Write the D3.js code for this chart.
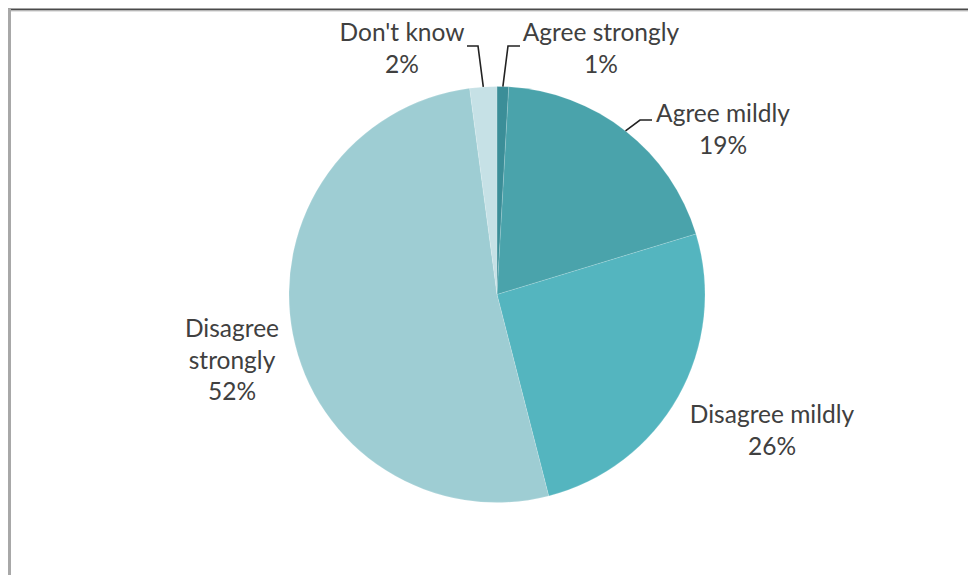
<!DOCTYPE html>
<html>
<head>
<meta charset="utf-8">
<script src="https://cdn.jsdelivr.net/npm/d3@7/dist/d3.min.js"></script>
<style>
  html, body { margin: 0; padding: 0; background: #fff; }
  svg { display: block; }
  text { font-family: Lato, "Open Sans", sans-serif; fill: #404040; }
</style>
</head>
<body>
<svg id="chart" width="968" height="575"></svg>
<script>
// Data
const categories = ["Agree strongly", "Agree mildly", "Disagree mildly", "Disagree strongly", "Don't know"];
const values = [0.9, 19.4, 25.7, 51.9, 2.1];
const colors = ["#3b8e98", "#4aa3ab", "#54b5bf", "#9ecdd3", "#c6e1e6"];
// label lines (text) for each slice
const labelLines = [
  ["Agree strongly"],
  ["Agree mildly"],
  ["Disagree mildly"],
  ["Disagree", "strongly"],
  ["Don't know"]
];

const svg = d3.select("#chart");
const W = 968, H = 575;

// frame
svg.append("rect").attr("x", 0).attr("y", 0).attr("width", W).attr("height", H).attr("fill", "#fff");
svg.append("line").attr("x1", 8).attr("x2", W).attr("y1", 9.5).attr("y2", 9.5)
  .attr("stroke", "#4a4a4a").attr("stroke-width", 2);
svg.append("line").attr("x1", 8).attr("x2", W).attr("y1", 11).attr("y2", 11)
  .attr("stroke", "#c8c8c8").attr("stroke-width", 1);
svg.append("line").attr("x1", 9.5).attr("x2", 9.5).attr("y1", 9).attr("y2", H)
  .attr("stroke", "#a8a8a8").attr("stroke-width", 3);

const cx = 497, cy = 294.5, R = 208;
const data = categories.map((c, i) => ({ cat: c, value: values[i], color: colors[i], lines: labelLines[i] }));

const pie = d3.pie().sort(null).value(d => d.value).startAngle(0).endAngle(2 * Math.PI);
const arc = d3.arc().innerRadius(0).outerRadius(R);
const arcs = pie(data);

const g = svg.append("g").attr("transform", `translate(${cx},${cy})`);
g.selectAll("path.slice").data(arcs).enter().append("path")
  .attr("class", "slice")
  .attr("d", arc)
  .attr("fill", d => d.data.color)
  .attr("stroke", "#ffffff")
  .attr("stroke-opacity", 0.25)
  .attr("stroke-width", 0.6);

// label placements (absolute, with percent line appended)
const labelPos = {
  "Agree strongly": { x: 601, y: 41 },
  "Agree mildly": { x: 723, y: 122 },
  "Disagree mildly": { x: 772, y: 423 },
  "Disagree strongly": { x: 232, y: 337 },
  "Don't know": { x: 402, y: 41 }
};
const lineH = 31.5;
arcs.forEach(a => {
  const p = labelPos[a.data.cat];
  const lines = a.data.lines.concat([Math.round(a.data.value) + "%"]);
  const t = svg.append("text").attr("text-anchor", "middle").style("font-size", "24.5px");
  lines.forEach((ln, i) => {
    t.append("tspan").attr("x", p.x).attr("y", p.y + i * lineH).text(ln);
  });
});

// leader lines: from label to slice edge at slice mid angle
const leaders = [
  { cat: "Agree strongly", from: [520, 46], elbow: [508, 46] },
  { cat: "Agree mildly", from: [652, 120], elbow: [640, 120] },
  { cat: "Don't know", from: [467, 46], elbow: [478, 46] }
];
leaders.forEach(l => {
  const a = arcs.find(d => d.data.cat === l.cat);
  const mid = (a.startAngle + a.endAngle) / 2;
  const ex = cx + R * Math.sin(mid), ey = cy - R * Math.cos(mid);
  svg.append("path")
    .attr("d", d3.line()([l.from, l.elbow, [ex, ey]]))
    .attr("fill", "none").attr("stroke", "#222").attr("stroke-width", 1.6);
});
</script>
</body>
</html>
